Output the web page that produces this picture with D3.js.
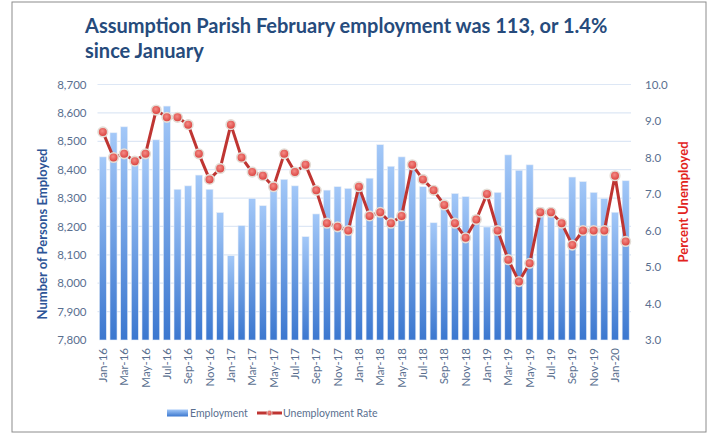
<!DOCTYPE html>
<html>
<head>
<meta charset="utf-8">
<script src="https://cdn.jsdelivr.net/npm/d3@7"></script>
<style>
  body { margin: 0; background: #fff; }
  svg { display: block; font-family: Lato, "Open Sans", sans-serif; }
</style>
</head>
<body>
<div id="chart"></div>
<script>
// months Jan-16 .. Feb-20
const months = ["Jan-16","Feb-16","Mar-16","Apr-16","May-16","Jun-16","Jul-16","Aug-16","Sep-16","Oct-16","Nov-16","Dec-16",
  "Jan-17","Feb-17","Mar-17","Apr-17","May-17","Jun-17","Jul-17","Aug-17","Sep-17","Oct-17","Nov-17","Dec-17",
  "Jan-18","Feb-18","Mar-18","Apr-18","May-18","Jun-18","Jul-18","Aug-18","Sep-18","Oct-18","Nov-18","Dec-18",
  "Jan-19","Feb-19","Mar-19","Apr-19","May-19","Jun-19","Jul-19","Aug-19","Sep-19","Oct-19","Nov-19","Dec-19",
  "Jan-20","Feb-20"];

const employment = [8445, 8530, 8551, 8420, 8452, 8505, 8624, 8331, 8343, 8381, 8331, 8249,
  8097, 8203, 8299, 8273, 8330, 8366, 8343, 8164, 8244, 8328, 8340, 8334,
  8345, 8370, 8488, 8412, 8445, 8405, 8340, 8213, 8272, 8316, 8305, 8238,
  8198, 8320, 8452, 8398, 8417, 8266, 8258, 8218, 8374, 8358, 8320, 8299,
  8250, 8361];

const unemploymentRate = [8.7, 8.0, 8.1, 7.9, 8.1, 9.3, 9.1, 9.1, 8.9, 8.1, 7.4, 7.7,
  8.9, 8.0, 7.6, 7.5, 7.2, 8.1, 7.6, 7.8, 7.1, 6.2, 6.1, 6.0,
  7.2, 6.4, 6.5, 6.2, 6.4, 7.8, 7.4, 7.1, 6.7, 6.2, 5.8, 6.3,
  7.0, 6.0, 5.2, 4.6, 5.1, 6.5, 6.5, 6.2, 5.6, 6.0, 6.0, 6.0,
  7.5, 5.7];

const leftTicks = [7800, 7900, 8000, 8100, 8200, 8300, 8400, 8500, 8600, 8700];
const rightTicks = [3, 4, 5, 6, 7, 8, 9, 10];

const width = 714, height = 433;
const plot = { left: 97.5, right: 631, top: 84.5, bottom: 340 };
const tickColor = "#5a6f8f";

const svg = d3.select("#chart").append("svg")
  .attr("width", width).attr("height", height);

const defs = svg.append("defs");
const barGrad = defs.append("linearGradient").attr("id", "barGrad")
  .attr("x1", 0).attr("y1", 0).attr("x2", 0).attr("y2", 1);
barGrad.append("stop").attr("offset", "0%").attr("stop-color", "#a3c8f8");
barGrad.append("stop").attr("offset", "100%").attr("stop-color", "#3b77cf");

const dotGrad = defs.append("radialGradient").attr("id", "dotGrad")
  .attr("cx", "45%").attr("cy", "40%").attr("r", "60%");
dotGrad.append("stop").attr("offset", "0%").attr("stop-color", "#f48a85");
dotGrad.append("stop").attr("offset", "100%").attr("stop-color", "#d83c38");

// frame
svg.append("rect")
  .attr("x", 12).attr("y", 2).attr("width", 694).attr("height", 430)
  .attr("fill", "none").attr("stroke", "#8c8c8c").attr("stroke-width", 1);

// title
const title = svg.append("text")
  .attr("x", 85).attr("y", 33)
  .attr("fill", "#264b7c").attr("font-size", 20).attr("font-weight", 700);
title.append("tspan").attr("x", 85).text("Assumption Parish  February employment was 113, or 1.4%");
title.append("tspan").attr("x", 85).attr("dy", 24.5).text("since January");

// scales
const x = d3.scaleBand().domain(months).range([plot.left, plot.right]).paddingInner(0.34).paddingOuter(0.17);
const yL = d3.scaleLinear().domain([7800, 8700]).range([plot.bottom, plot.top]);
const yR = d3.scaleLinear().domain([3, 10]).range([plot.bottom, plot.top]);

// gridlines
svg.append("g").selectAll("line").data(leftTicks.slice(1)).join("line")
  .attr("x1", plot.left).attr("x2", plot.right)
  .attr("y1", d => yL(d)).attr("y2", d => yL(d))
  .attr("stroke", "#dde7f5").attr("stroke-width", 1.2);

// bars
svg.append("g").selectAll("rect").data(employment).join("rect")
  .attr("x", (d, i) => x(months[i]))
  .attr("width", x.bandwidth())
  .attr("y", d => yL(d))
  .attr("height", d => yL(7800) - yL(d))
  .attr("fill", "url(#barGrad)")
  .attr("stroke", "#e8eef7").attr("stroke-width", 0.6);

// left axis
const axisL = svg.append("g").attr("transform", `translate(${plot.left - 8},0)`)
  .call(d3.axisLeft(yL).tickValues(leftTicks).tickSize(0).tickFormat(d3.format(",")));
axisL.select(".domain").remove();
axisL.selectAll("text").attr("fill", tickColor).attr("font-size", 11.5)
  .attr("font-family", "Lato, sans-serif");

// right axis
const axisR = svg.append("g").attr("transform", `translate(${plot.right + 11},0)`)
  .call(d3.axisRight(yR).tickValues(rightTicks).tickSize(0).tickFormat(d3.format(".1f")));
axisR.select(".domain").remove();
axisR.selectAll("text").attr("fill", tickColor).attr("font-size", 11.5)
  .attr("font-family", "Lato, sans-serif");

// x labels every other month
const axisX = svg.append("g").attr("transform", `translate(0,${plot.bottom})`)
  .call(d3.axisBottom(x).tickValues(months.filter((m, i) => i % 2 === 0)).tickSize(0));
axisX.select(".domain").remove();
axisX.selectAll("text")
  .attr("transform", "rotate(-90)")
  .attr("x", -8).attr("y", 0).attr("dy", "0.35em")
  .attr("text-anchor", "end")
  .attr("fill", tickColor).attr("font-size", 11.5)
  .attr("font-family", "Lato, sans-serif");

// axis titles
svg.append("text")
  .attr("transform", "translate(42,234) rotate(-90)")
  .attr("text-anchor", "middle").attr("dy", "0.35em").attr("font-size", 13).attr("font-weight", 700)
  .attr("fill", "#2e5597").text("Number of Persons Employed");
svg.append("text")
  .attr("transform", "translate(683,202) rotate(-90)")
  .attr("text-anchor", "middle").attr("dy", "0.35em").attr("font-size", 13).attr("font-weight", 700)
  .attr("fill", "#e2231d").text("Percent Unemployed");

// unemployment line
const cx = (d, i) => x(months[i]) + x.bandwidth() / 2;
svg.append("path")
  .datum(unemploymentRate)
  .attr("fill", "none").attr("stroke", "#bf3532").attr("stroke-width", 3)
  .attr("stroke-linejoin", "round")
  .attr("d", d3.line().x(cx).y(d => yR(d)));

svg.append("g").selectAll("circle").data(unemploymentRate).join("circle")
  .attr("cx", cx).attr("cy", d => yR(d)).attr("r", 4.8)
  .attr("fill", "url(#dotGrad)").attr("stroke", "#e3ddd6").attr("stroke-width", 1.6);

// legend
const legend = svg.append("g").attr("transform", "translate(0,413)");
legend.append("rect").attr("x", 167).attr("y", -3.5).attr("width", 21).attr("height", 7)
  .attr("fill", "url(#barGrad)");
legend.append("text").attr("x", 190).attr("y", 0).attr("dy", "0.35em")
  .attr("font-size", 10.5).attr("fill", tickColor).text("Employment");
legend.append("line").attr("x1", 257).attr("x2", 282).attr("y1", 0).attr("y2", 0)
  .attr("stroke", "#bf3532").attr("stroke-width", 3);
legend.append("circle").attr("cx", 269.5).attr("cy", 0).attr("r", 2.6)
  .attr("fill", "url(#dotGrad)").attr("stroke", "#e3ddd6").attr("stroke-width", 0.8);
legend.append("text").attr("x", 283).attr("y", 0).attr("dy", "0.35em")
  .attr("font-size", 10.5).attr("fill", tickColor).text("Unemployment Rate");
</script>
</body>
</html>
